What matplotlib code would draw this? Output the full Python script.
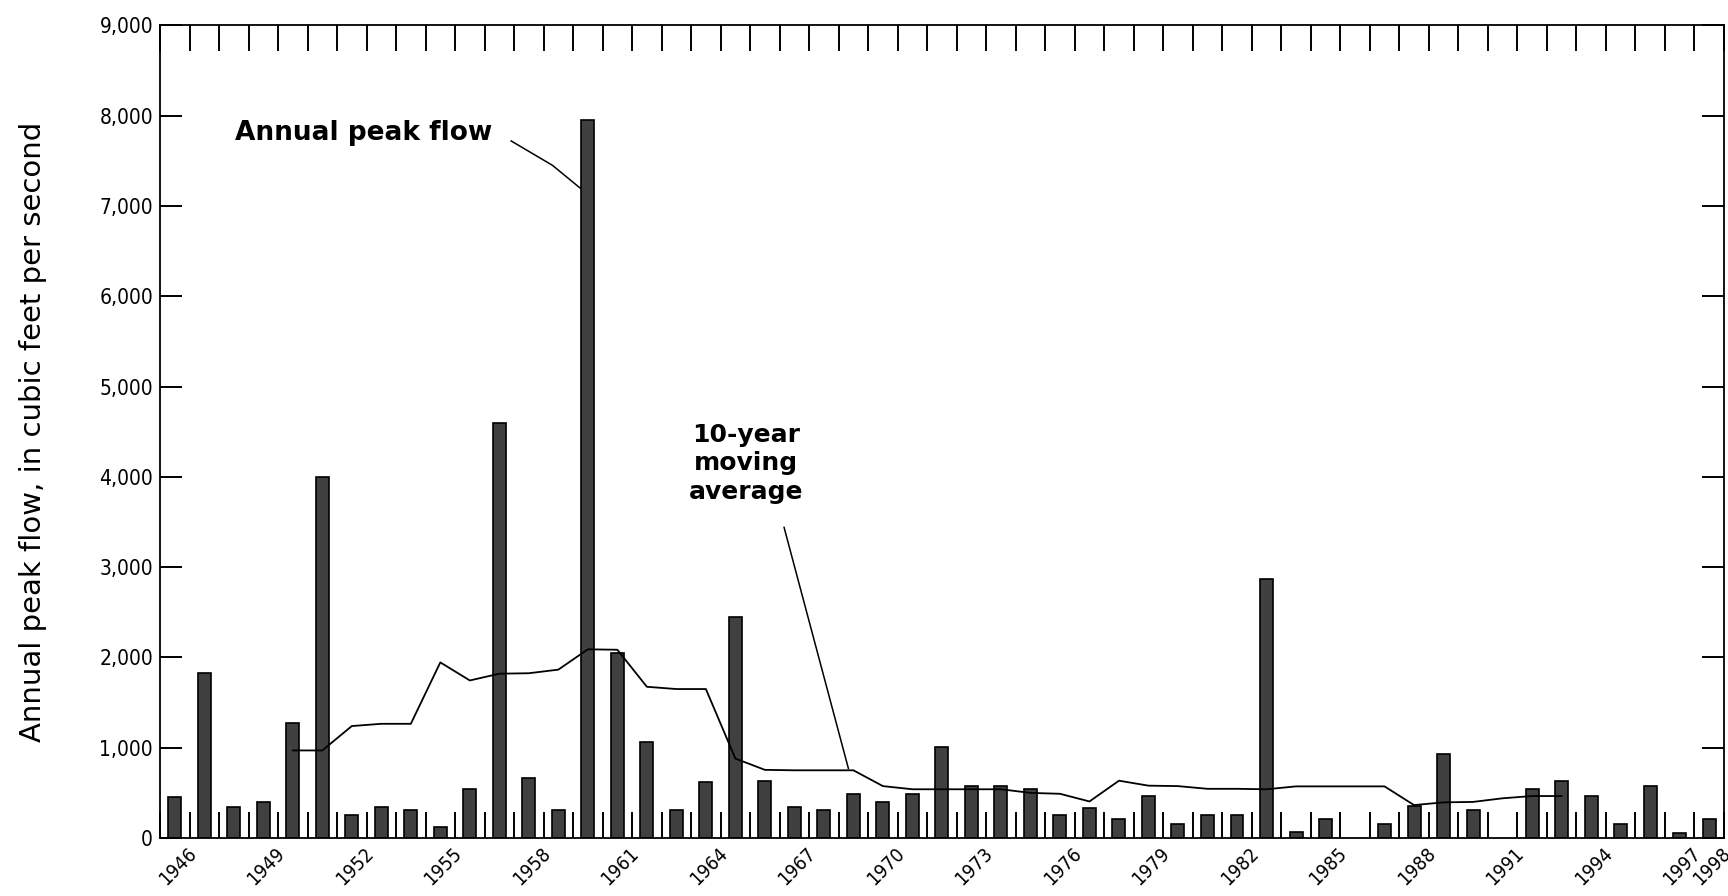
import numpy as np
import matplotlib
matplotlib.use("Agg")
import matplotlib.pyplot as plt
from matplotlib.ticker import FuncFormatter

# annual peak flow, cubic feet per second (nan = no record)
years = np.arange(1946, 1999)
peak_flow = [450, 1830, 340, 400, 1270, 4000, 250, 340, 310, 125,
             540, 4600, 660, 305, 7950, 2050, 1060, 305, 625, 2450,
             630, 340, 305, 490, 400, 490, 1010, 575, 575, 545,
             250, 330, 215, 460, 160, 250, 250, 2870, 70, 210,
             np.nan, 160, 350, 935, 310, np.nan, 545, 635, 460, 150,
             580, 60, 210]

# 10-year moving average
ma_years = np.arange(1950, 1994)
ma_flow = [970, 970, 1240, 1265, 1265, 1945, 1745, 1820, 1825, 1865,
           2090, 2085, 1675, 1650, 1650, 880, 755, 750, 750, 750,
           575, 540, 540, 540, 540, 500, 490, 405, 635, 580,
           575, 545, 545, 540, 572, 572, 572, 572, 365, 395,
           400, 440, 465, 465]

label_years = [1946, 1949, 1952, 1955, 1958, 1961, 1964, 1967, 1970,
               1973, 1976, 1979, 1982, 1985, 1988, 1991, 1994, 1997, 1998]

fig = plt.figure(figsize=(17.28, 8.96), dpi=100)
ax = fig.add_axes([0.0926, 0.0647, 0.905, 0.907])

flow = np.array(peak_flow, dtype=float)
ok = ~np.isnan(flow)
ax.bar(years[ok], flow[ok], width=0.44, color='#404040',
       edgecolor='black', linewidth=1.2, zorder=2)

ax.plot(ma_years, ma_flow, color='black', linewidth=1.3, zorder=3)

ax.set_xlim(1945.5, 1998.5)
ax.set_ylim(0, 9000)

# y axis
ax.set_yticks(np.arange(0, 9001, 1000))
ax.yaxis.set_major_formatter(FuncFormatter(lambda v, p: '{:,.0f}'.format(v)))
ax.tick_params(axis='y', direction='in', length=16, width=1.4,
               left=True, right=True, pad=5, labelsize=15)
for lab in ax.get_yticklabels():
    lab.set_fontstretch('condensed')

# x axis: year boundaries as ticks, labels rotated
ax.set_xticks(np.arange(1945.5, 1999, 1), minor=True)
ax.tick_params(axis='x', which='minor', direction='in', length=19,
               width=1.4, top=True, bottom=True)
ax.set_xticks(np.array(label_years) + 0.4)
ax.set_xticklabels([str(y) for y in label_years], rotation=45,
                   ha='right', va='top', rotation_mode='anchor',
                   fontsize=14, fontstretch='condensed')
ax.tick_params(axis='x', which='major', length=0, pad=4)

for sp in ax.spines.values():
    sp.set_linewidth(1.3)

ax.set_ylabel('Annual peak flow, in cubic feet per second', fontsize=21)
ax.yaxis.set_label_coords(-0.072, 0.5)

# annotations
ax.text(1948.05, 7805, 'Annual peak flow', fontsize=19, fontweight='bold',
        ha='left', va='center')
ax.plot([1957.4, 1958.8, 1959.75], [7720, 7450, 7195], color='black',
        linewidth=1.1)

ax.text(1965.35, 4150, '10-year\nmoving\naverage', fontsize=18,
        fontweight='bold', ha='center', va='center', linespacing=1.25)
ax.plot([1966.65, 1968.83], [3440, 770], color='black', linewidth=1.1)

fig.savefig('out.png', dpi=100)
